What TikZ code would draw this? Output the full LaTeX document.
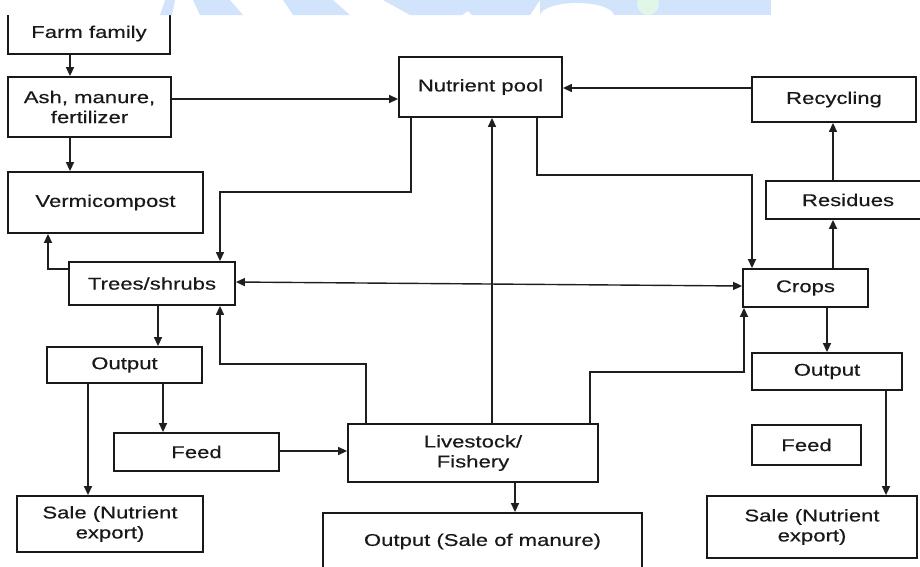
\documentclass[tikz,border=0pt]{standalone}
\usepackage{fontspec}
\setmainfont{Liberation Sans}[FakeStretch=1.3,FakeBold=0.4]
\usetikzlibrary{arrows.meta}
\definecolor{wmblue}{RGB}{210,228,252}
\definecolor{wmgreen}{RGB}{226,246,232}
\begin{document}
\begin{tikzpicture}[x=1pt,y=-1pt,
  box/.style={draw=black!90, line width=1.8pt, fill=white, align=center, inner sep=0pt,
    font=\fontsize{17}{20}\selectfont, text=black!90},
  arr/.style={line width=1.4pt, draw=black!88, -{Triangle[length=9pt,width=8pt]}},
  darr/.style={line width=1.4pt, draw=black!88, {Triangle[length=9pt,width=8pt]}-{Triangle[length=9pt,width=8pt]}},
]
\useasboundingbox (0,0) rectangle (920,566);
\begin{scope}
\clip (0,0) rectangle (920,566);
% nodes
\node[box, minimum width=162pt, minimum height=41pt] (farm) at (89,33.5) {Farm family};
\node[box, minimum width=163pt, minimum height=60pt] (ash) at (89.5,107) {Ash, manure,\\fertilizer};
\node[box, minimum width=195pt, minimum height=61pt] (vermi) at (105.5,202.5) {Vermicompost};
\node[box, minimum width=166pt, minimum height=43pt] (trees) at (152,283.5) {Trees/shrubs};
\node[box, minimum width=163pt, minimum height=60pt] (nutrient) at (480.5,87) {Nutrient pool};
\node[box, minimum width=164pt, minimum height=45pt] (recyc) at (834,99.5) {Recycling};
\node[box, minimum width=164pt, minimum height=38pt] (resid) at (848,200) {Residues};
\node[box, minimum width=125pt, minimum height=38pt] (crops) at (805.5,288) {Crops};
\node[box, minimum width=155pt, minimum height=36pt] (outl) at (124.5,365) {Output};
\node[box, minimum width=165pt, minimum height=38pt] (feedl) at (196.5,452) {Feed};
\node[box, minimum width=250pt, minimum height=58pt] (live) at (473,453) {Livestock/\\Fishery};
\node[box, minimum width=319pt, minimum height=57pt] (manure) at (482.5,541.5) {Output (Sale of manure)};
\node[box, minimum width=186pt, minimum height=56pt] (salel) at (110,524) {Sale (Nutrient\\export)};
\node[box, minimum width=150pt, minimum height=37pt] (outr) at (827,371.5) {Output};
\node[box, minimum width=109pt, minimum height=40pt] (feedr) at (806.5,445) {Feed};
\node[box, minimum width=210pt, minimum height=62pt] (saler) at (812,527) {Sale (Nutrient\\export)};
% connectors
\draw[arr] ([xshift=-19pt]farm.south) -- ([xshift=-19.5pt]ash.north);
\draw[arr] ([xshift=-19.5pt]ash.south) -- ([xshift=-35.5pt]vermi.north);
\draw[arr] ([yshift=8pt]ash.east) -- ([yshift=-12pt]nutrient.west);
\draw[arr] ([xshift=-69.5pt]nutrient.south) -- ++(0,74) -| ([xshift=68pt]trees.north);
\draw[arr] ([yshift=11.5pt]recyc.west) -- ([yshift=-1pt]nutrient.east);
\draw[arr] ([xshift=56.5pt]nutrient.south) -- ++(0,57) -| ([xshift=-53.5pt]crops.north);
\draw[arr] ([xshift=-15pt]resid.north) -- ([xshift=-1pt]recyc.south);
\draw[arr] ([xshift=27.5pt]crops.north) -- ([xshift=-15pt]resid.south);
\draw[arr] ([xshift=19pt]live.north) -- ([xshift=11.5pt]nutrient.south);
\draw[darr] ([yshift=1.5pt]trees.east) -- ([yshift=2pt]crops.west);
\draw[arr] ([yshift=14.5pt]trees.west) -| ([xshift=-57.5pt]vermi.south);
\draw[arr] ([xshift=6pt]trees.south) -- ([xshift=33.5pt]outl.north);
\draw[arr] ([xshift=-36.5pt]outl.south) -- ([xshift=-22pt]salel.north);
\draw[arr] ([xshift=38.5pt]outl.south) -- ([xshift=-33.5pt]feedl.north);
\draw[arr] ([yshift=1pt]feedl.east) -- ([yshift=2pt]live.west);
\draw[arr] ([xshift=-107pt]live.north) -- ++(0,-59) -| ([xshift=68pt]trees.south);
\draw[arr] ([xshift=117pt]live.north) -- ++(0,-51) -| ([xshift=-61.5pt]crops.south);
\draw[arr] ([xshift=42pt]live.south) -- ([xshift=32.5pt]manure.north);
\draw[arr] ([xshift=21.5pt]crops.south) -- ([xshift=0pt]outr.north);
\draw[arr] ([xshift=59pt]outr.south) -- ([xshift=74pt]saler.north);
% watermark strip at the top
\fill[white] (0,0) rectangle (920,15);
\fill[wmblue] (165,0) -- (175,0) -- (172,15) -- (160,15) -- cycle;
\fill[wmblue] (193,0) -- (230,0) -- (243,15) -- (200,15) -- cycle;
\fill[wmblue] (283,0) -- (333,0) -- (350,15) -- (293,15) -- cycle;
\fill[wmblue] (383,0) -- (540,0) -- (530,15) -- (472,15) -- (468,11) -- (462,15) -- (410,15) -- cycle;
\fill[wmblue] (540,0) rectangle (770,15);
\fill[white] (577,16) ellipse [x radius=37, y radius=13];
\fill[wmgreen] (648,4) circle [radius=11];
\fill[white] (767,0) rectangle (920,15);
\fill[wmblue] (763,0) rectangle (771,15);
\end{scope}
\end{tikzpicture}
\end{document}
